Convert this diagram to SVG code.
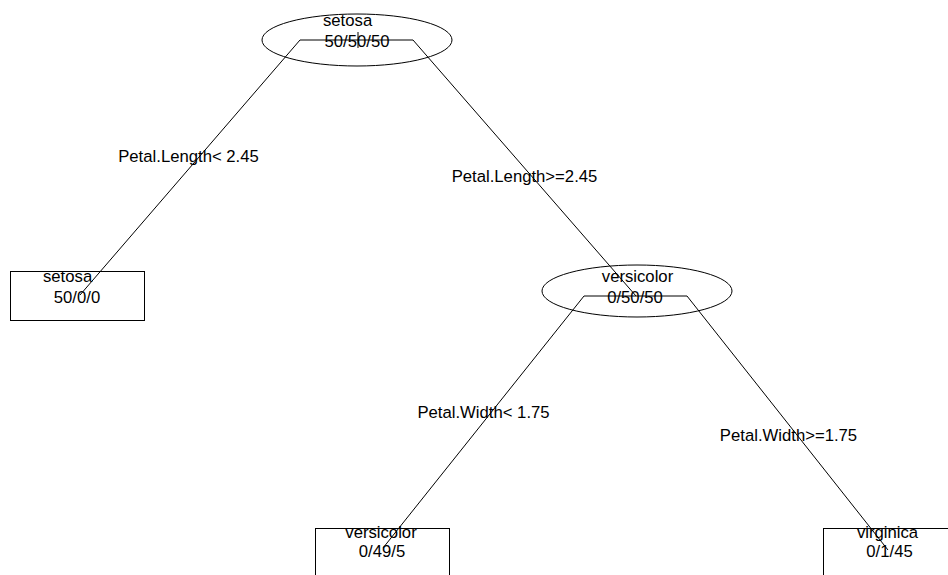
<svg xmlns="http://www.w3.org/2000/svg" width="948" height="575" viewBox="0 0 948 575">
<style>
.shape{fill:none;stroke:#000;stroke-width:1}
.edge{fill:none;stroke:#000;stroke-width:1}
text{font-family:"Liberation Sans",Arial,sans-serif;font-size:16.7px;fill:#000}
.c{text-anchor:middle}
</style>
<rect width="948" height="575" fill="#fff"/>
<g id="connectors">
<polyline class="edge" points="80,295 300,40 413,40 636,296"/>
<line class="edge" x1="358" y1="32" x2="358" y2="48"/>
<polyline class="edge" points="383,548 584,296 687,296 888,550"/>
<text class="c" x="188.5" y="162">Petal.Length&lt; 2.45</text>
<text class="c" x="524.5" y="182">Petal.Length&gt;=2.45</text>
<text class="c" x="483.5" y="418">Petal.Width&lt; 1.75</text>
<text class="c" x="788.5" y="441">Petal.Width&gt;=1.75</text>
</g>
<g id="node-root">
<ellipse class="shape" cx="357" cy="40" rx="95" ry="26"/>
<text x="323" y="26">setosa</text>
<text class="c" x="357" y="47">50/50/50</text>
</g>
<g id="node-setosa">
<rect class="shape" x="10.5" y="271.5" width="134" height="49"/>
<text x="43" y="282">setosa</text>
<text class="c" x="77" y="303">50/0/0</text>
</g>
<g id="node-versicolor-split">
<ellipse class="shape" cx="637" cy="291" rx="95" ry="26"/>
<text class="c" x="637.5" y="282">versicolor</text>
<text class="c" x="635" y="303">0/50/50</text>
</g>
<g id="node-versicolor-leaf">
<rect class="shape" x="315.5" y="528.5" width="134" height="60"/>
<text class="c" x="381" y="538">versicolor</text>
<text class="c" x="382" y="557">0/49/5</text>
</g>
<g id="node-virginica">
<rect class="shape" x="823.5" y="528.5" width="140" height="60"/>
<text class="c" x="887.5" y="538">virginica</text>
<text class="c" x="889.5" y="557">0/1/45</text>
</g>
</svg>
